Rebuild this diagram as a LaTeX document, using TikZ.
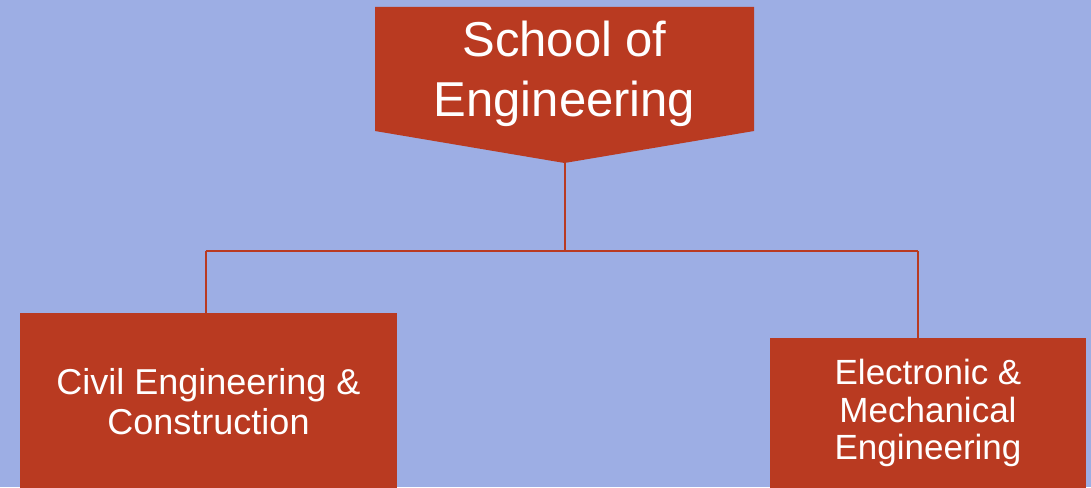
\documentclass[tikz,border=0pt]{standalone}
\usepackage{fontspec}
\setmainfont{Liberation Sans}
\usetikzlibrary{positioning}
\usetikzlibrary{calc}
\definecolor{bgblue}{HTML}{9DAEE4}
\definecolor{brick}{HTML}{B93A21}
\begin{document}
\begin{tikzpicture}[x=1pt, y=-1pt,
            bricksquarednode/.style={rectangle, fill=brick, text=white, inner sep=0pt, align=center},
            bricklink/.style={draw=brick, line width=2pt},
            ]
            \useasboundingbox (0,0) rectangle (1091,487);
            \clip (0,0) rectangle (1091,487);
            \fill[bgblue] (0,0) rectangle (1091,487);

            \fill[brick] (375,7) -- (754,7) -- (754,131) -- (564.5,163) -- (375,131) -- cycle;
            \coordinate (tip) at (564.5,163);
            \node[text=white, align=center, font=\fontsize{49}{60}\selectfont] (school) at (564.5,74) {School of\\Engineering};

            \node[bricksquarednode, minimum width=377pt, minimum height=178pt, font=\fontsize{36}{40}\selectfont] (civil) at (208.5,402) {Civil Engineering \&\\Construction};
            \node[bricksquarednode, minimum width=316pt, minimum height=150pt, font=\fontsize{35}{37.5}\selectfont] (eme) at (928,413) {Electronic \&\\Mechanical\\Engineering};

            \coordinate (lhook) at (206,251);
            \coordinate (rhook) at (918,251);

            \draw[bricklink] (tip) -- (tip |- lhook);
            \draw[bricklink] (lhook) -- (rhook);
            \draw[bricklink] (lhook) -- (lhook |- civil.north);
            \draw[bricklink] (rhook) -- (rhook |- eme.north);
        \end{tikzpicture}
\end{document}
